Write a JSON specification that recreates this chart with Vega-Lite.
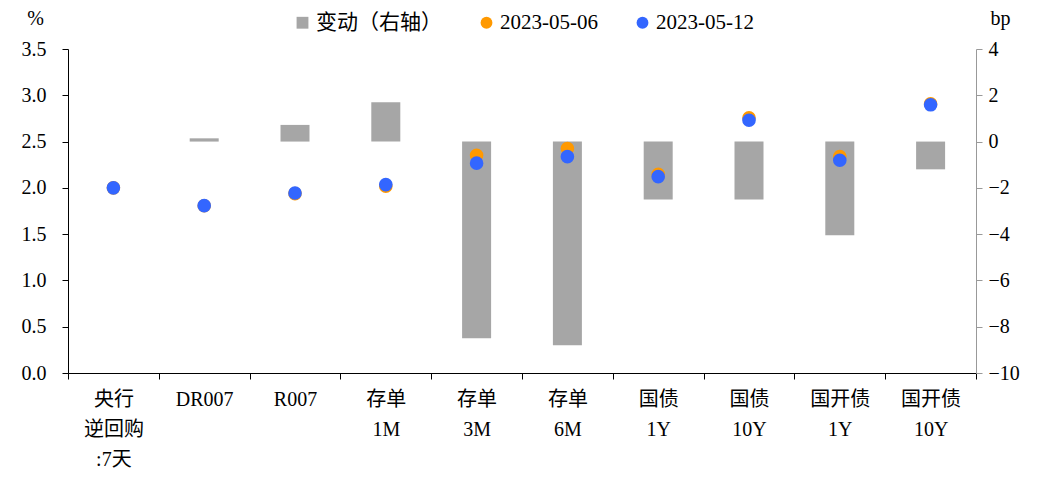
{
  "$schema": "https://vega.github.io/schema/vega-lite/v6.json",
  "width": 908,
  "height": 324,
  "autosize": {"type": "none"},
  "padding": {"left": 68, "top": 49, "right": 66, "bottom": 109},
  "background": "white",
  "config": {
    "view": {"stroke": null},
    "font": "'Liberation Serif', 'Noto Sans CJK SC', serif",
    "axis": {"grid": false, "labelFont": "'Liberation Serif', 'Noto Sans CJK SC', serif", "labelFontSize": 20, "labelColor": "black", "titleFont": "'Liberation Serif', 'Noto Sans CJK SC', serif", "titleFontSize": 20, "titleFontWeight": "normal", "titleColor": "black"},
    "legend": {"labelFont": "'Liberation Serif', 'Noto Sans CJK SC', serif", "labelFontSize": 21, "labelColor": "black"}
  },
  "data": {
    "values": [
      {"cat": "央行|逆回购|:7天", "series": "变动（右轴）", "value": 0},
      {"cat": "DR007", "series": "变动（右轴）", "value": 0.14},
      {"cat": "R007", "series": "变动（右轴）", "value": 0.72},
      {"cat": "存单|1M", "series": "变动（右轴）", "value": 1.7},
      {"cat": "存单|3M", "series": "变动（右轴）", "value": -8.5},
      {"cat": "存单|6M", "series": "变动（右轴）", "value": -8.8},
      {"cat": "国债|1Y", "series": "变动（右轴）", "value": -2.5},
      {"cat": "国债|10Y", "series": "变动（右轴）", "value": -2.5},
      {"cat": "国开债|1Y", "series": "变动（右轴）", "value": -4.05},
      {"cat": "国开债|10Y", "series": "变动（右轴）", "value": -1.2},
      {"cat": "央行|逆回购|:7天", "series": "2023-05-06", "value": 2.0},
      {"cat": "DR007", "series": "2023-05-06", "value": 1.807},
      {"cat": "R007", "series": "2023-05-06", "value": 1.938},
      {"cat": "存单|1M", "series": "2023-05-06", "value": 2.018},
      {"cat": "存单|3M", "series": "2023-05-06", "value": 2.352},
      {"cat": "存单|6M", "series": "2023-05-06", "value": 2.425},
      {"cat": "国债|1Y", "series": "2023-05-06", "value": 2.146},
      {"cat": "国债|10Y", "series": "2023-05-06", "value": 2.756},
      {"cat": "国开债|1Y", "series": "2023-05-06", "value": 2.339},
      {"cat": "国开债|10Y", "series": "2023-05-06", "value": 2.909},
      {"cat": "央行|逆回购|:7天", "series": "2023-05-12", "value": 2.0},
      {"cat": "DR007", "series": "2023-05-12", "value": 1.808},
      {"cat": "R007", "series": "2023-05-12", "value": 1.945},
      {"cat": "存单|1M", "series": "2023-05-12", "value": 2.035},
      {"cat": "存单|3M", "series": "2023-05-12", "value": 2.267},
      {"cat": "存单|6M", "series": "2023-05-12", "value": 2.337},
      {"cat": "国债|1Y", "series": "2023-05-12", "value": 2.121},
      {"cat": "国债|10Y", "series": "2023-05-12", "value": 2.731},
      {"cat": "国开债|1Y", "series": "2023-05-12", "value": 2.298},
      {"cat": "国开债|10Y", "series": "2023-05-12", "value": 2.897}
    ]
  },
  "encoding": {
    "x": {
      "field": "cat", "type": "nominal", "sort": null,
      "scale": {"paddingInner": 0, "paddingOuter": 0},
      "axis": {"title": null, "labelAngle": 0, "labelExpr": "datum.value ? split(datum.value, '|') : ''", "labelLineHeight": 30, "labelPadding": 10, "labelBaseline": "top", "tickBand": "extent", "tickSize": 6, "domainColor": "black", "tickColor": "black", "domainWidth": 1.2}
    },
    "color": {
      "field": "series", "type": "nominal",
      "scale": {"domain": ["变动（右轴）", "2023-05-06", "2023-05-12"], "range": ["#a6a6a6", "#ff9900", "#3366ff"]},
      "legend": {"title": null, "orient": "none", "direction": "horizontal", "legendX": 224, "legendY": -37, "symbolSize": 140, "columnPadding": 34, "labelOffset": 3, "symbolOpacity": 1, "symbolStrokeWidth": 0,
        "encode": {"symbols": {"update": {"shape": {"signal": "datum.value === '变动（右轴）' ? 'square' : 'circle'"}}}}}
    }
  },
  "layer": [
    {
      "transform": [{"filter": "datum.series === '变动（右轴）'"}],
      "mark": {"type": "bar", "size": 29},
      "encoding": {
        "y": {"field": "value", "type": "quantitative", "scale": {"domain": [-10, 4], "nice": false, "zero": false},
          "axis": {"orient": "right", "values": [-10, -8, -6, -4, -2, 0, 2, 4], "title": "bp", "titleAngle": 0, "titleX": 24, "titleY": -31, "titleAlign": "center", "titleBaseline": "middle", "domainColor": "#999999", "tickColor": "#999999", "tickSize": 6, "labelPadding": 6}}
      }
    },
    {
      "transform": [{"filter": "datum.series !== '变动（右轴）'"}],
      "mark": {"type": "point", "filled": true, "shape": "circle", "size": 185, "opacity": 1},
      "encoding": {
        "y": {"field": "value", "type": "quantitative", "scale": {"domain": [0, 3.5], "nice": false},
          "axis": {"orient": "left", "values": [0, 0.5, 1, 1.5, 2, 2.5, 3, 3.5], "format": ".1f", "title": "%", "titleAngle": 0, "titleX": -33, "titleY": -31, "titleAlign": "center", "titleBaseline": "middle", "domainColor": "black", "tickColor": "black", "tickSize": 6, "labelPadding": 16}}
      }
    }
  ],
  "resolve": {"scale": {"y": "independent"}}
}
